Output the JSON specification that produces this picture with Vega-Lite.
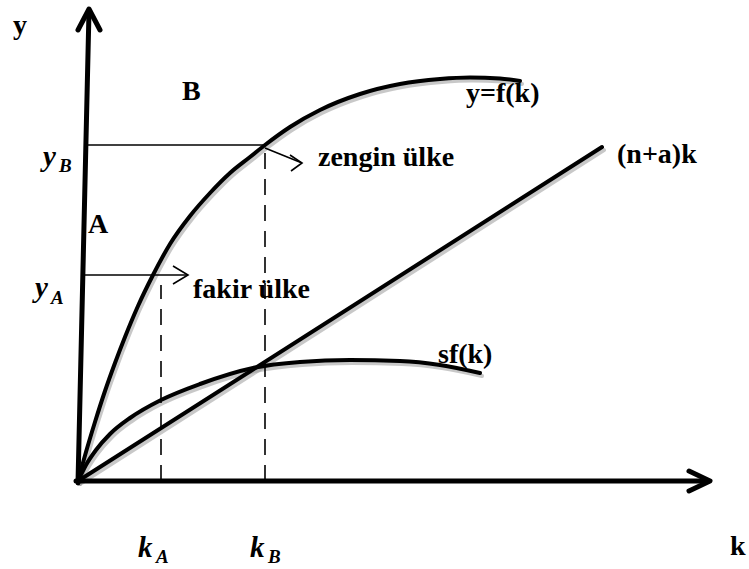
{
  "$schema": "https://vega.github.io/schema/vega-lite/v6.json",
  "width": 749,
  "height": 569,
  "padding": 0,
  "autosize": {"type": "none"},
  "background": "white",
  "config": {"view": {"stroke": null}},
  "datasets": {
    "paths": [
      {"id": "f", "kind": "curve", "i": 0, "k": 0, "y": 0},
      {"id": "f", "kind": "curve", "i": 1, "k": 8, "y": 29},
      {"id": "f", "kind": "curve", "i": 2, "k": 17, "y": 59},
      {"id": "f", "kind": "curve", "i": 3, "k": 27, "y": 90},
      {"id": "f", "kind": "curve", "i": 4, "k": 37, "y": 118},
      {"id": "f", "kind": "curve", "i": 5, "k": 47, "y": 144},
      {"id": "f", "kind": "curve", "i": 6, "k": 60, "y": 175},
      {"id": "f", "kind": "curve", "i": 7, "k": 75, "y": 206},
      {"id": "f", "kind": "curve", "i": 8, "k": 92, "y": 237},
      {"id": "f", "kind": "curve", "i": 9, "k": 112, "y": 265},
      {"id": "f", "kind": "curve", "i": 10, "k": 132, "y": 288},
      {"id": "f", "kind": "curve", "i": 11, "k": 152, "y": 308},
      {"id": "f", "kind": "curve", "i": 12, "k": 172, "y": 324},
      {"id": "f", "kind": "curve", "i": 13, "k": 187, "y": 336},
      {"id": "f", "kind": "curve", "i": 14, "k": 212, "y": 354},
      {"id": "f", "kind": "curve", "i": 15, "k": 242, "y": 371},
      {"id": "f", "kind": "curve", "i": 16, "k": 282, "y": 387},
      {"id": "f", "kind": "curve", "i": 17, "k": 322, "y": 397},
      {"id": "f", "kind": "curve", "i": 18, "k": 362, "y": 402},
      {"id": "f", "kind": "curve", "i": 19, "k": 392, "y": 403.5},
      {"id": "f", "kind": "curve", "i": 20, "k": 422, "y": 402.5},
      {"id": "f", "kind": "curve", "i": 21, "k": 442, "y": 400},
      {"id": "sf", "kind": "curve", "i": 0, "k": 0, "y": 0},
      {"id": "sf", "kind": "curve", "i": 1, "k": 8, "y": 16},
      {"id": "sf", "kind": "curve", "i": 2, "k": 18, "y": 31},
      {"id": "sf", "kind": "curve", "i": 3, "k": 32, "y": 47},
      {"id": "sf", "kind": "curve", "i": 4, "k": 52, "y": 63},
      {"id": "sf", "kind": "curve", "i": 5, "k": 83, "y": 81},
      {"id": "sf", "kind": "curve", "i": 6, "k": 122, "y": 97},
      {"id": "sf", "kind": "curve", "i": 7, "k": 175, "y": 113},
      {"id": "sf", "kind": "curve", "i": 8, "k": 222, "y": 119},
      {"id": "sf", "kind": "curve", "i": 9, "k": 272, "y": 121},
      {"id": "sf", "kind": "curve", "i": 10, "k": 322, "y": 120},
      {"id": "sf", "kind": "curve", "i": 11, "k": 362, "y": 116},
      {"id": "sf", "kind": "curve", "i": 12, "k": 402, "y": 108},
      {"id": "nak", "kind": "curve", "i": 0, "k": 0, "y": 0},
      {"id": "nak", "kind": "curve", "i": 1, "k": 524, "y": 334},
      {"id": "yax", "kind": "axis", "i": 0, "k": 0, "y": -2},
      {"id": "yax", "kind": "axis", "i": 1, "k": 11, "y": 470},
      {"id": "xax", "kind": "axis", "i": 0, "k": -2, "y": 0},
      {"id": "xax", "kind": "axis", "i": 1, "k": 630, "y": 0},
      {"id": "yhead", "kind": "axis", "i": 0, "k": 0, "y": 451},
      {"id": "yhead", "kind": "axis", "i": 1, "k": 11, "y": 472},
      {"id": "yhead", "kind": "axis", "i": 2, "k": 22, "y": 451},
      {"id": "xhead", "kind": "axis", "i": 0, "k": 611, "y": 10},
      {"id": "xhead", "kind": "axis", "i": 1, "k": 632, "y": 0},
      {"id": "xhead", "kind": "axis", "i": 2, "k": 611, "y": -10},
      {"id": "yB", "kind": "thin", "i": 0, "k": 8, "y": 336},
      {"id": "yB", "kind": "thin", "i": 1, "k": 187, "y": 336},
      {"id": "yA", "kind": "thin", "i": 0, "k": 5, "y": 206},
      {"id": "yA", "kind": "thin", "i": 1, "k": 110, "y": 206},
      {"id": "yAh", "kind": "thin", "i": 0, "k": 95, "y": 215},
      {"id": "yAh", "kind": "thin", "i": 1, "k": 110, "y": 206},
      {"id": "yAh", "kind": "thin", "i": 2, "k": 95, "y": 197},
      {"id": "zs", "kind": "thin", "i": 0, "k": 187, "y": 333},
      {"id": "zs", "kind": "thin", "i": 1, "k": 224, "y": 318},
      {"id": "zh", "kind": "thin", "i": 0, "k": 212, "y": 326},
      {"id": "zh", "kind": "thin", "i": 1, "k": 224, "y": 318},
      {"id": "zh", "kind": "thin", "i": 2, "k": 213, "y": 310}
    ],
    "dashes": [
      {"name": "kA", "k": 83, "y0": 0, "y1": 196},
      {"name": "kB", "k": 187, "y0": 0, "y1": 331}
    ],
    "labels": [
      {"t": "y", "style": "b", "k": -65, "y": 447},
      {"t": "B", "style": "b", "k": 104, "y": 381},
      {"t": "y=f(k)", "style": "b", "k": 388, "y": 379},
      {"t": "(n+a)k", "style": "b", "k": 539, "y": 318},
      {"t": "zengin ülke", "style": "b", "k": 240, "y": 315},
      {"t": "A", "style": "b", "k": 10, "y": 248},
      {"t": "fakir ülke", "style": "b", "k": 115, "y": 183},
      {"t": "sf(k)", "style": "b", "k": 360, "y": 118},
      {"t": "k", "style": "b", "k": 652, "y": -74},
      {"t": "y", "style": "mi", "k": -35, "y": 315},
      {"t": "B", "style": "ms", "k": -19, "y": 309},
      {"t": "y", "style": "mi", "k": -43, "y": 184},
      {"t": "A", "style": "ms", "k": -27, "y": 177},
      {"t": "k", "style": "mi", "k": 60, "y": -76},
      {"t": "A", "style": "ms", "k": 78, "y": -82},
      {"t": "k", "style": "mi", "k": 172, "y": -76},
      {"t": "B", "style": "ms", "k": 190, "y": -82}
    ]
  },
  "encoding": {
    "x": {"field": "k", "type": "quantitative", "scale": {"domain": [-78, 671], "nice": false, "zero": false}, "axis": null},
    "y": {"field": "y", "type": "quantitative", "scale": {"domain": [-88, 481], "nice": false, "zero": false}, "axis": null}
  },
  "layer": [
    {
      "data": {"name": "paths"},
      "transform": [{"filter": "datum.kind === 'curve'"}],
      "mark": {"type": "line", "interpolate": "monotone", "stroke": "#9a9a9a", "strokeWidth": 4, "opacity": 0.55, "xOffset": 2, "yOffset": 3, "strokeCap": "round"},
      "encoding": {"detail": {"field": "id"}, "order": {"field": "i", "type": "quantitative"}}
    },
    {
      "data": {"name": "paths"},
      "transform": [{"filter": "datum.kind === 'curve'"}],
      "mark": {"type": "line", "interpolate": "monotone", "stroke": "black", "strokeWidth": 4, "strokeCap": "round", "strokeJoin": "round"},
      "encoding": {"detail": {"field": "id"}, "order": {"field": "i", "type": "quantitative"}}
    },
    {
      "data": {"name": "paths"},
      "transform": [{"filter": "datum.kind === 'axis'"}],
      "mark": {"type": "line", "stroke": "black", "strokeWidth": 5, "strokeCap": "round", "strokeJoin": "round"},
      "encoding": {"detail": {"field": "id"}, "order": {"field": "i", "type": "quantitative"}}
    },
    {
      "data": {"name": "paths"},
      "transform": [{"filter": "datum.kind === 'thin'"}],
      "mark": {"type": "line", "stroke": "black", "strokeWidth": 1.6, "strokeJoin": "miter"},
      "encoding": {"detail": {"field": "id"}, "order": {"field": "i", "type": "quantitative"}}
    },
    {
      "data": {"name": "dashes"},
      "mark": {"type": "rule", "stroke": "black", "strokeWidth": 1.6, "strokeDash": [16, 10]},
      "encoding": {
        "x": {"field": "k", "type": "quantitative"},
        "y": {"field": "y0", "type": "quantitative"},
        "y2": {"field": "y1"}
      }
    },
    {
      "data": {"name": "labels"},
      "transform": [{"filter": "datum.style === 'b'"}],
      "mark": {"type": "text", "align": "left", "baseline": "alphabetic", "font": "'Liberation Serif', 'Times New Roman', 'DejaVu Serif', serif", "fontWeight": "bold", "fontSize": 28, "color": "black"},
      "encoding": {"text": {"field": "t"}}
    },
    {
      "data": {"name": "labels"},
      "transform": [{"filter": "datum.style === 'mi'"}],
      "mark": {"type": "text", "align": "left", "baseline": "alphabetic", "font": "'Liberation Serif', 'Times New Roman', 'DejaVu Serif', serif", "fontWeight": "bold", "fontStyle": "italic", "fontSize": 29, "color": "black"},
      "encoding": {"text": {"field": "t"}}
    },
    {
      "data": {"name": "labels"},
      "transform": [{"filter": "datum.style === 'ms'"}],
      "mark": {"type": "text", "align": "left", "baseline": "alphabetic", "font": "'Liberation Serif', 'Times New Roman', 'DejaVu Serif', serif", "fontWeight": "bold", "fontStyle": "italic", "fontSize": 19, "color": "black"},
      "encoding": {"text": {"field": "t"}}
    }
  ]
}
